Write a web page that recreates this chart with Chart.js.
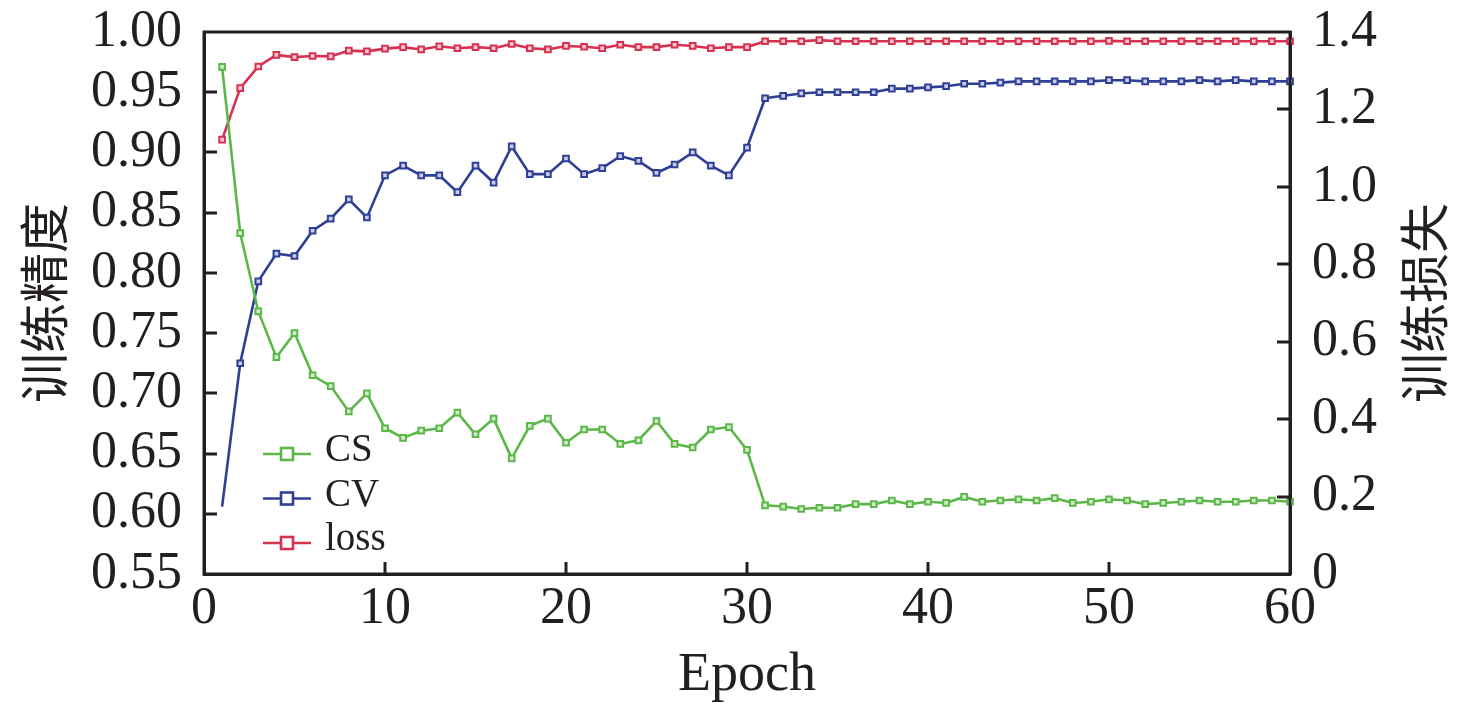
<!DOCTYPE html>
<html>
<head>
<meta charset="utf-8">
<script src="https://cdn.jsdelivr.net/npm/chart.js@4.4.0/dist/chart.umd.min.js"></script>
<style>
  body { margin: 0; background: #fff; }
  canvas { display: block; }
</style>
</head>
<body>
<canvas id="line-chart" width="1476" height="708"></canvas>
<script>
// epochs 1..60
var epochs = [];
for (var e = 1; e <= 60; e++) epochs.push(e);

var csValues = [0.971, 0.833, 0.768, 0.730, 0.750, 0.715, 0.706, 0.685, 0.700, 0.671,
  0.663, 0.669, 0.671, 0.684, 0.666, 0.679, 0.646, 0.673, 0.679, 0.659,
  0.670, 0.670, 0.658, 0.661, 0.677, 0.658, 0.655, 0.670, 0.672, 0.653,
  0.607, 0.606, 0.604, 0.605, 0.605, 0.608, 0.608, 0.611, 0.608, 0.610,
  0.609, 0.614, 0.610, 0.611, 0.612, 0.611, 0.613, 0.609, 0.610, 0.612,
  0.611, 0.608, 0.609, 0.610, 0.611, 0.610, 0.610, 0.611, 0.611, 0.610];

var cvValues = [0.606, 0.725, 0.793, 0.816, 0.814, 0.835, 0.845, 0.861, 0.846, 0.881,
  0.889, 0.881, 0.881, 0.867, 0.889, 0.875, 0.905, 0.882, 0.882, 0.895,
  0.882, 0.887, 0.897, 0.893, 0.883, 0.890, 0.900, 0.889, 0.881, 0.904,
  0.945, 0.947, 0.949, 0.950, 0.950, 0.950, 0.950, 0.953, 0.953, 0.954,
  0.955, 0.957, 0.957, 0.958, 0.959, 0.959, 0.959, 0.959, 0.959, 0.960,
  0.960, 0.959, 0.959, 0.959, 0.960, 0.959, 0.960, 0.959, 0.959, 0.959];

var lossValues = [1.122, 1.255, 1.311, 1.341, 1.335, 1.338, 1.337, 1.352, 1.350, 1.357,
  1.361, 1.355, 1.363, 1.358, 1.361, 1.358, 1.369, 1.358, 1.355, 1.364,
  1.362, 1.358, 1.367, 1.361, 1.361, 1.367, 1.364, 1.358, 1.361, 1.361,
  1.376, 1.376, 1.376, 1.379, 1.376, 1.376, 1.376, 1.376, 1.376, 1.376,
  1.376, 1.376, 1.376, 1.376, 1.376, 1.376, 1.376, 1.376, 1.376, 1.377,
  1.376, 1.376, 1.376, 1.376, 1.376, 1.376, 1.376, 1.376, 1.376, 1.376];

var seriesNames = ["CS", "CV", "loss"];
var leftTitle = "训练精度";
var rightTitle = "训练损失";
var xTitle = "Epoch";

var ink = "#231f20";
var serif = "'Liberation Serif', 'Noto Sans CJK SC', serif";
var cjk = "'Noto Sans CJK SC', 'Liberation Serif', serif";

function pts(vals) {
  return vals.map(function (v, i) { return { x: epochs[i], y: v }; });
}

function lineSet(label, vals, color, fill, axis) {
  return {
    label: label,
    data: pts(vals),
    yAxisID: axis,
    borderColor: color,
    backgroundColor: fill,
    borderWidth: 2.6,
    pointStyle: 'rect',
    pointRadius: 4,
    pointBorderWidth: 2,
    pointBorderColor: color,
    pointBackgroundColor: fill,
    tension: 0,
    clip: false
  };
}

var cvSet = lineSet(seriesNames[1], cvValues, "#2f3f96", "#c9cde6", "y");
cvSet.pointRadius = function (c) { return c.dataIndex === 0 ? 0 : 4; };

// fixed box sizes so the plot area sits where the original one does
function fitWidth(w) {
  return function (s) { s.width = w; s.paddingTop = 0; s.paddingBottom = 0; };
}

// inward ticks, box, legend and right title
var extras = {
  id: 'extras',
  afterDraw: function (chart) {
    var ctx = chart.ctx, a = chart.chartArea;
    var sx = chart.scales.x, sy = chart.scales.y, sy1 = chart.scales.y1;
    ctx.save();
    ctx.strokeStyle = ink;
    ctx.lineWidth = 3;
    ctx.beginPath();
    sy.ticks.forEach(function (t) {
      var p = Math.round(sy.getPixelForValue(t.value));
      if (p <= a.top + 2 || p >= a.bottom - 2) return;
      ctx.moveTo(a.left, p); ctx.lineTo(a.left + 13, p);
    });
    sy1.ticks.forEach(function (t) {
      var p = Math.round(sy1.getPixelForValue(t.value));
      if (p <= a.top + 2 || p >= a.bottom - 2) return;
      ctx.moveTo(a.right, p); ctx.lineTo(a.right - 13, p);
    });
    sx.ticks.forEach(function (t) {
      var p = Math.round(sx.getPixelForValue(t.value));
      if (p <= a.left + 2 || p >= a.right - 2) return;
      ctx.moveTo(p, a.bottom); ctx.lineTo(p, a.bottom - 12);
    });
    ctx.stroke();
    ctx.strokeRect(a.left, a.top, a.right - a.left, a.bottom - a.top);

    // legend
    chart.data.datasets.forEach(function (ds, i) {
      var y = 454 + i * 44.5;
      ctx.strokeStyle = ds.borderColor;
      ctx.lineWidth = 2.6;
      ctx.beginPath(); ctx.moveTo(263, y); ctx.lineTo(311, y); ctx.stroke();
      ctx.fillStyle = "#fff";
      ctx.fillRect(281, y - 6, 12, 12);
      ctx.strokeRect(281, y - 6, 12, 12);
      ctx.fillStyle = ink;
      ctx.font = "39px " + serif;
      ctx.textBaseline = "alphabetic";
      ctx.textAlign = "left";
      ctx.fillText(ds.label, 325, y + 7);
    });

    // right axis title, reading bottom to top
    ctx.translate(1424, (a.top + a.bottom) / 2);
    ctx.rotate(-Math.PI / 2);
    ctx.font = "50px " + cjk;
    ctx.fillStyle = ink;
    ctx.textAlign = "center";
    ctx.textBaseline = "middle";
    ctx.fillText(rightTitle, 0, 0);
    ctx.restore();
  }
};

var dataPlot = new Chart(document.getElementById("line-chart"), {
  type: 'line',
  data: {
    datasets: [
      lineSet(seriesNames[0], csValues, "#5bb848", "#d4eccd", "y"),
      cvSet,
      lineSet(seriesNames[2], lossValues, "#d8304f", "#f6cdd5", "y1")
    ]
  },
  options: {
    responsive: false,
    devicePixelRatio: 1,
    animation: false,
    layout: { padding: { top: 32, left: 0, right: 0, bottom: 0 } },
    plugins: { legend: { display: false }, tooltip: { enabled: false } },
    scales: {
      x: {
        type: 'linear', min: 0, max: 60,
        ticks: { stepSize: 10, padding: 4, color: ink, font: { family: serif, size: 52 } },
        grid: { drawOnChartArea: false, drawTicks: false },
        border: { color: ink, width: 3 },
        title: { display: true, text: xTitle, color: ink, font: { family: serif, size: 54 }, padding: 0 },
        afterFit: function (s) { s.height = 134; s.paddingLeft = 0; s.paddingRight = 0; }
      },
      y: {
        position: 'left', min: 0.55, max: 1.0,
        ticks: { stepSize: 0.05, autoSkip: false, padding: 22, color: ink, font: { family: serif, size: 52 },
          callback: function (v) { return v.toFixed(2); } },
        grid: { drawOnChartArea: false, drawTicks: false },
        border: { color: ink, width: 3 },
        title: { display: true, text: leftTitle, color: ink, font: { family: cjk, size: 50 }, padding: { top: 14, bottom: 0 } },
        afterFit: fitWidth(204)
      },
      y1: {
        position: 'right', min: 0, max: 1.4,
        ticks: { stepSize: 0.2, autoSkip: false, padding: 22, color: ink, font: { family: serif, size: 52 },
          callback: function (v) { return v === 0 ? "0" : v.toFixed(1); } },
        grid: { drawOnChartArea: false, drawTicks: false },
        border: { color: ink, width: 3 },
        afterFit: fitWidth(186)
      }
    }
  },
  plugins: [extras]
});
</script>
</body>
</html>
